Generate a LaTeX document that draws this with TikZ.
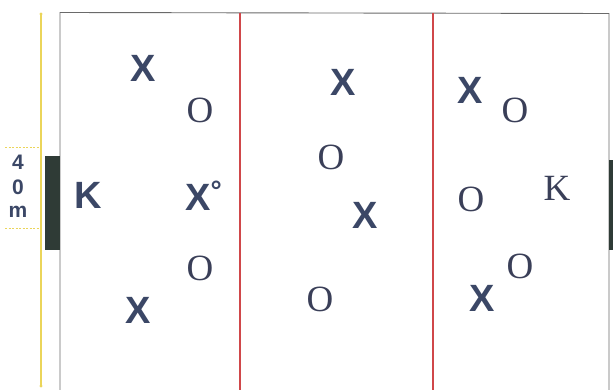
\documentclass[tikz,border=0pt]{standalone}
\usepackage{fontspec}
\setmainfont{Liberation Serif}
\setsansfont{Liberation Sans}
\begin{document}
\begin{tikzpicture}[x=1pt,y=-1pt,
  xpl/.style={font=\sffamily\bfseries\fontsize{38}{38}\selectfont, text=navyx, inner sep=0pt},
  opl/.style={font=\rmfamily\fontsize{37}{37}\selectfont, text=navyo, inner sep=0pt},
  kbold/.style={font=\sffamily\bfseries\fontsize{38}{38}\selectfont, text=navyx, inner sep=0pt},
  lbl/.style={font=\sffamily\bfseries\fontsize{21}{21}\selectfont, text=navyx, inner sep=0pt},
  redline/.style={draw=redl, line width=1.4pt},
  goal/.style={fill=goalc, draw=none}]
\definecolor{navyx}{HTML}{3B4766}
\definecolor{navyo}{HTML}{3A3F58}
\definecolor{redl}{HTML}{D0474A}
\definecolor{goalc}{HTML}{2F3B36}
\definecolor{yel}{HTML}{EBD55A}
\definecolor{bord}{HTML}{6A6A6A}
\useasboundingbox (0,0) rectangle (613,390);
% field border
\draw[bord, line width=0.9pt] (60,395) -- (60,12.5) -- (609,13.5) -- (609,395);
% red lines
\draw[redline] (240,13) -- (240,395);
\draw[redline] (433,13) -- (433,395);
% goals
\fill[goal] (45,156) rectangle (60,250);
\fill[goal] (609,160) rectangle (614,250);
% measure line
\coordinate (ytop) at (41,14);
\coordinate (ybot) at (41,386);
\draw[yel, line width=1.3pt] (ytop) -- (ybot);
\fill[yel] (ytop) circle (1.7pt);
\fill[yel] (ybot) circle (1.7pt);
\draw[yel, line width=0.9pt, dash pattern=on 2pt off 1.5pt] (5,147) -- (41,147);
\draw[yel, line width=0.9pt, dash pattern=on 2pt off 1.5pt] (5,228) -- (41,228);
\node[lbl] (l4) at (18,162) {4};
\node[lbl] (l0) at (18,187) {0};
\node[lbl] (lm) at (18,212) {m};
% left zone
\node[kbold] (x1) at (143,68) {X};
\node[opl] (o1) at (200,110) {O};
\node[kbold] (k1) at (88,195) {K};
\node[xpl, anchor=west] (x2) at (185,196) {X\raisebox{10pt}{\fontsize{28}{28}\selectfont °}};
\node[opl] (o2) at (200,268) {O};
\node[xpl] (x3) at (138,310) {X};
% middle zone
\node[xpl] (x4) at (343,82) {X};
\node[opl] (o3) at (331,157) {O};
\node[xpl] (x5) at (365,215) {X};
\node[opl] (o4) at (320,299) {O};
% right zone
\node[xpl] (x6) at (470,90) {X};
\node[opl] (o5) at (515,110) {O};
\node[opl] (o6) at (471,199) {O};
\node[opl] (k2) at (557,188) {K};
\node[opl] (o7) at (520,266) {O};
\node[xpl] (x7) at (482,298) {X};
\end{tikzpicture}
\end{document}
